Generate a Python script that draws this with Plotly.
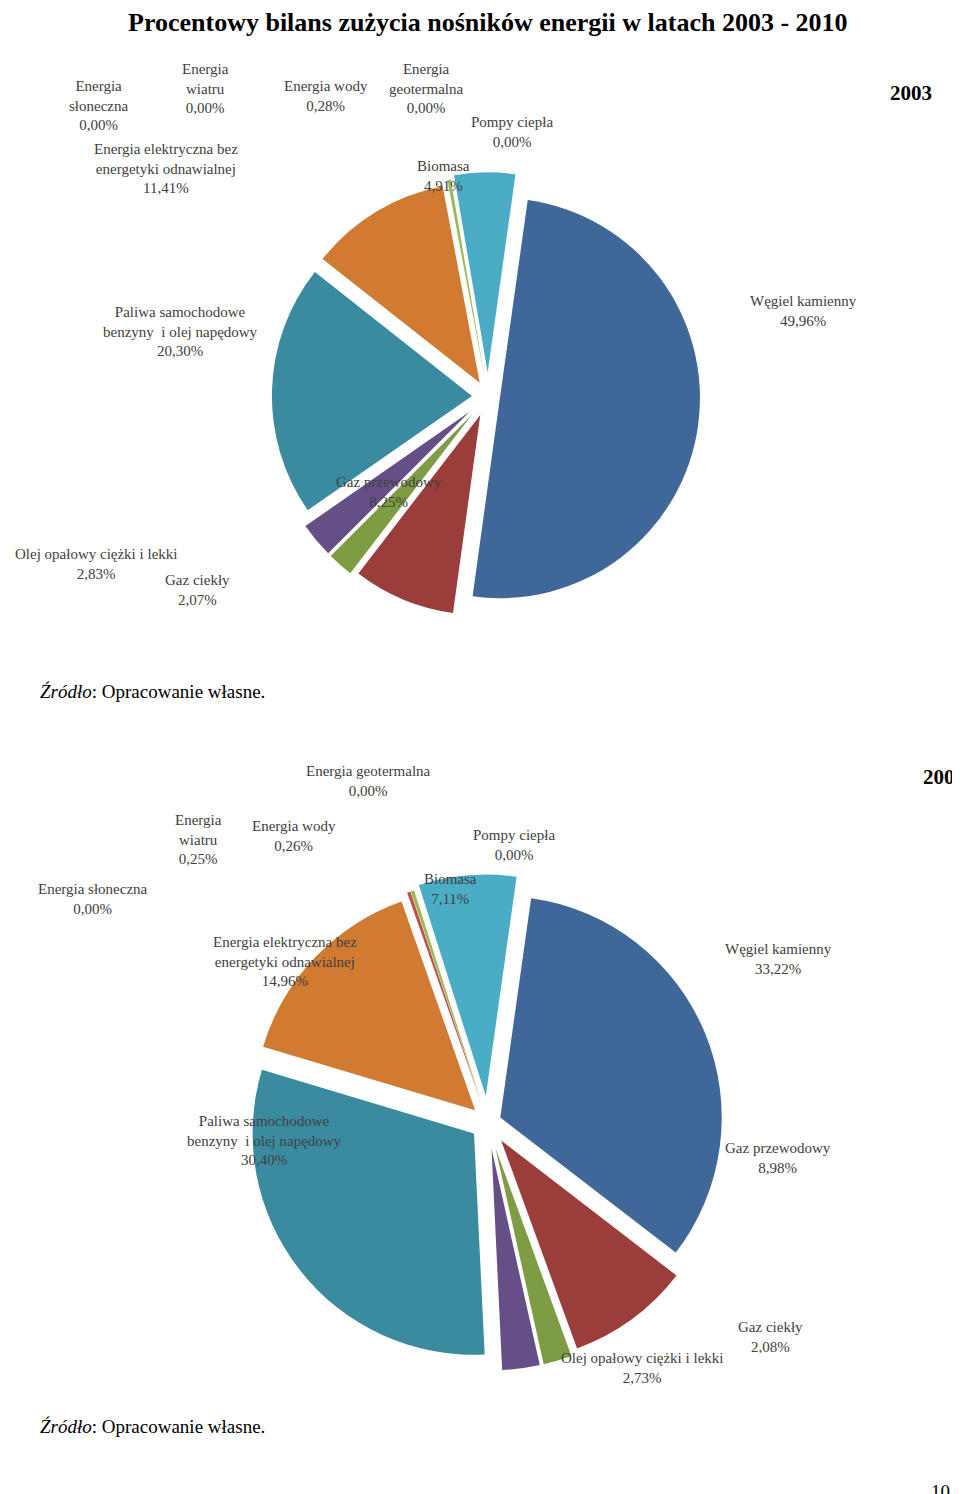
import plotly.graph_objects as go

categories = ["Węgiel kamienny", "Gaz przewodowy", "Gaz ciekły", "Olej opałowy ciężki i lekki",
              "Paliwa samochodowe<br>benzyny  i olej napędowy",
              "Energia elektryczna bez<br>energetyki odnawialnej",
              "Energia<br>słoneczna", "Energia<br>wiatru", "Energia wody",
              "Energia<br>geotermalna", "Biomasa", "Pompy ciepła"]
values_2003 = [49.96, 8.25, 2.07, 2.83, 20.30, 11.41, 0.00, 0.00, 0.28, 0.00, 4.91, 0.00]
values_2007 = [33.22, 8.98, 2.08, 2.73, 30.40, 14.96, 0.00, 0.25, 0.26, 0.00, 7.11, 0.00]
colors = ["#3F6797", "#9B3D3A", "#7E9C44", "#654F86", "#3A8BA0", "#D07A32",
          "#8064A2", "#C0504D", "#9BBB59", "#F79646", "#4BACC6", "#2C4D75"]
pulls = [0.06, 0.1, 0.12, 0.12, 0.08, 0.08, 0.1, 0.1, 0.1, 0.1, 0.12, 0.1]

# label centres in page pixels (x, y)
pos_2003 = [(795, 303), (381, 484), (189, 582), (88, 556), (172, 323), (158, 160),
            (90, 97), (197, 80), (318, 88), (418, 80), (435, 168), (504, 124)]
pos_2007 = [(770, 951), (770, 1150), (762, 1329), (634, 1360), (256, 1132), (277, 953),
            (85, 891), (190, 831), (286, 828), (360, 773), (442, 881), (506, 837)]

W, H = 960, 1494
SERIF = "Liberation Serif"


def fmt(v):
    return f"{v:.2f}".replace(".", ",") + "%"


fig = go.Figure()
for vals, dom in [(values_2003, [0.59, 0.89]), (values_2007, [0.088, 0.42])]:
    fig.add_trace(go.Pie(
        labels=categories, values=vals, sort=False, direction="clockwise",
        rotation=8, pull=pulls, textinfo="none", hoverinfo="label+percent",
        marker=dict(colors=colors, line=dict(color="white", width=0)),
        domain=dict(x=[0.05, 0.95], y=dom), showlegend=False,
    ))


def ann(x, y, text, size=15, color="#404040", xanchor="center"):
    return dict(x=x / W, y=1 - y / H, xref="paper", yref="paper", showarrow=False,
                text=text, align="center", xanchor=xanchor, yanchor="middle",
                font=dict(family=SERIF, size=size, color=color))


annotations = []
for vals, pos, year in [(values_2003, pos_2003, 2003), (values_2007, pos_2007, 2007)]:
    for cat, v, (x, y) in zip(categories, vals, pos):
        label = cat
        if year == 2007 and cat == "Energia<br>słoneczna":
            label = "Energia słoneczna"
        if year == 2007 and cat == "Energia<br>geotermalna":
            label = "Energia geotermalna"
        annotations.append(ann(x, y, f"{label}<br>{fmt(v)}"))

annotations += [
    ann(480, 14, "<b>Procentowy bilans zużycia nośników energii w latach 2003 - 2010</b>", 26, "black"),
    ann(903, 85, "<b>2003</b>", 21, "black"),
    ann(936, 769, "<b>2007</b>", 21, "black"),
    ann(30, 683, "<i>Źródło</i>: Opracowanie własne.", 19, "black", "left"),
    ann(30, 1418, "<i>Źródło</i>: Opracowanie własne.", 19, "black", "left"),
    ann(932, 1483, "10", 19, "black"),
]

fig.update_layout(
    width=W, height=H, margin=dict(l=0, r=0, t=0, b=0),
    paper_bgcolor="white", plot_bgcolor="white",
    annotations=annotations,
)

fig.write_html("out.html")
